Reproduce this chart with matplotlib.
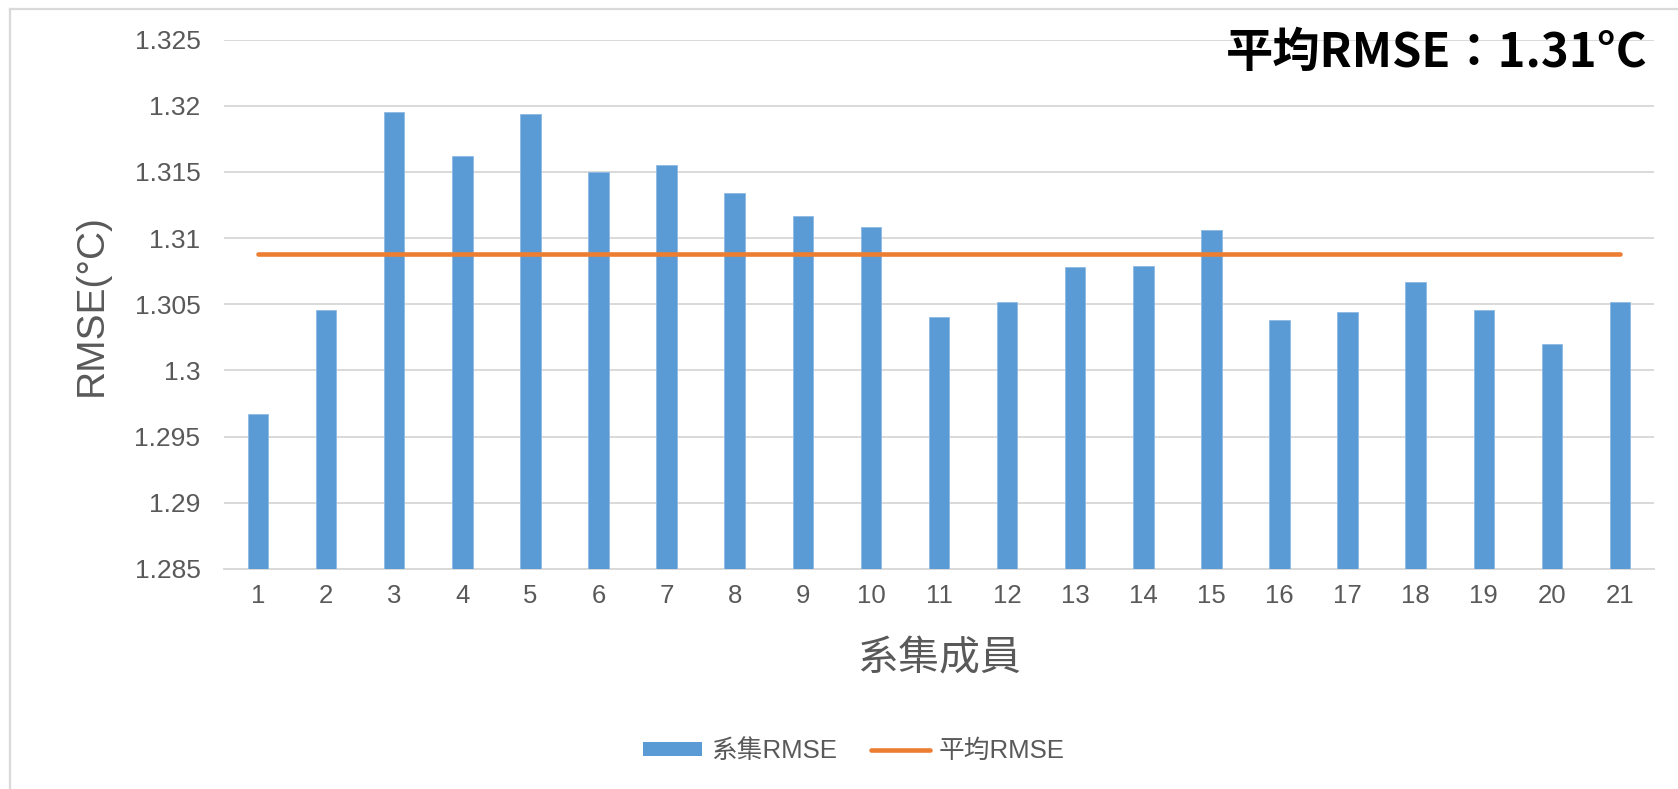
import matplotlib
matplotlib.use("Agg")
import matplotlib.pyplot as plt
from matplotlib.lines import Line2D
from matplotlib.patches import Patch

# ---- data ----
members = [str(i) for i in range(1, 22)]
rmse = [1.2967, 1.3046, 1.3195, 1.3162, 1.3194, 1.3150, 1.3155, 1.3134, 1.3117, 1.3108,
        1.3040, 1.3052, 1.3078, 1.3079, 1.3106, 1.3038, 1.3044, 1.3067, 1.3046, 1.3020, 1.3052]
avg_rmse = [1.3088] * len(members)
yticks = [1.285, 1.29, 1.295, 1.3, 1.305, 1.31, 1.315, 1.32, 1.325]
ytick_labels = ["1.285", "1.29", "1.295", "1.3", "1.305", "1.31", "1.315", "1.32", "1.325"]
bar_label = "系集RMSE"
line_label = "平均RMSE"
xlabel = "系集成員"
ylabel = "RMSE(°C)"
note = "平均RMSE：1.31°C"

BLUE = "#5B9BD5"
ORANGE = "#ED7D31"
GRID = "#D9D9D9"
TXT = "#595959"
FONTS = ["Liberation Sans", "Noto Sans CJK TC", "DejaVu Sans"]
plt.rcParams["font.family"] = FONTS

W, H = 1678, 789
fig = plt.figure(figsize=(W / 100, H / 100), dpi=100)
fig.patch.set_facecolor("white")

# chart border (left and top only visible)
fig.add_artist(Line2D([10 / W, 10 / W], [0, 1 - 8.6 / H], color=GRID, lw=1.6))
fig.add_artist(Line2D([10 / W, 1], [1 - 8.6 / H, 1 - 8.6 / H], color=GRID, lw=1.6))

left, right = 224 / W, 1654 / W
bottom, top = 1 - 569 / H, 1 - 39.5 / H
ax = fig.add_axes([left, bottom, right - left, top - bottom])

x = list(range(len(members)))
ax.bar(x, [v - 1.285 for v in rmse], bottom=1.285, width=0.30, color=BLUE,
       edgecolor="#8DB9E2", linewidth=0.6, zorder=3)
ax.plot(x, avg_rmse, color=ORANGE, lw=3.3, solid_capstyle="round", zorder=4)

ax.set_xlim(-0.5, len(members) - 0.5)
ax.set_ylim(1.285, 1.325)
ax.set_yticks(yticks)
ax.set_yticklabels(ytick_labels)
ax.set_xticks(x)
ax.set_xticklabels(members)
ax.tick_params(axis="both", length=0, labelsize=18.5, labelcolor=TXT)
ax.tick_params(axis="y", labelsize=19, pad=17)
ax.tick_params(axis="x", pad=11)
ax.grid(axis="y", color=GRID, lw=1.4, zorder=0)
for s in ["top", "right", "left"]:
    ax.spines[s].set_visible(False)
ax.spines["bottom"].set_color(GRID)
ax.spines["bottom"].set_linewidth(1.4)
ax.set_axisbelow(True)

fig.text(91.7 / W, 1 - 305 / H, ylabel, rotation=90, ha="center", va="center",
         fontsize=28, color=TXT)
fig.text(939 / W, 1 - 659 / H, xlabel, ha="center", va="center",
         fontsize=29.5, color=TXT)
fig.text(1648 / W, 1 - 53 / H, note, ha="right", va="center", fontsize=34,
         fontweight="bold", color="black", family=["Noto Sans CJK TC", "DejaVu Sans"])

handles = [Patch(facecolor=BLUE, edgecolor="none", label=bar_label),
           Line2D([0], [0], color=ORANGE, lw=3.3, solid_capstyle="round", label=line_label)]
fig.legend(handles=handles, loc="center", bbox_to_anchor=(854 / W, 1 - 751 / H), ncol=2,
           frameon=False, fontsize=18.5, labelcolor=TXT, handlelength=2.3, handleheight=0.5,
           handletextpad=0.35, columnspacing=1.3)

fig.savefig("out.png", dpi=100, facecolor="white")
